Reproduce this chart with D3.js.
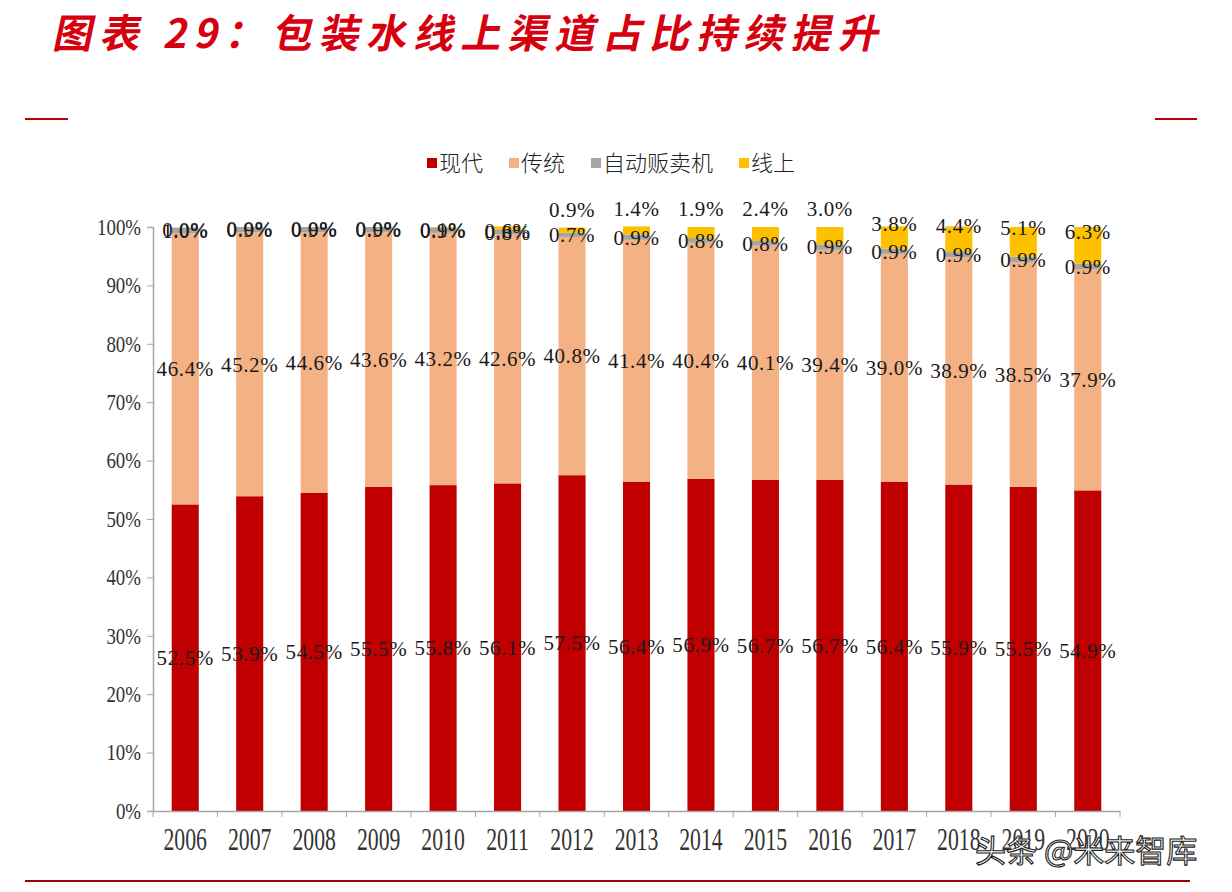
<!DOCTYPE html>
<html>
<head>
<meta charset="utf-8">
<script src="https://cdn.jsdelivr.net/npm/d3@7"></script>
<style>
  body { margin: 0; background: #fff; }
  svg { display: block; }
</style>
</head>
<body>
<svg id="chart" width="1232" height="892"></svg>
<script>
"use strict";

// data
var years = ['2006', '2007', '2008', '2009', '2010', '2011', '2012', '2013', '2014', '2015', '2016', '2017', '2018', '2019', '2020'];
var seriesNames = ['现代', '传统', '自动贩卖机', '线上'];
var modern = [52.5, 53.9, 54.5, 55.5, 55.8, 56.1, 57.5, 56.4, 56.9, 56.7, 56.7, 56.4, 55.9, 55.5, 54.9];
var traditional = [46.4, 45.2, 44.6, 43.6, 43.2, 42.6, 40.8, 41.4, 40.4, 40.1, 39.4, 39.0, 38.9, 38.5, 37.9];
var vending = [1.0, 0.9, 0.9, 0.9, 0.9, 0.8, 0.7, 0.9, 0.8, 0.8, 0.9, 0.9, 0.9, 0.9, 0.9];
var online = [0.0, 0.0, 0.0, 0.0, 0.1, 0.6, 0.9, 1.4, 1.9, 2.4, 3.0, 3.8, 4.4, 5.1, 6.3];
var yTicks = [0, 10, 20, 30, 40, 50, 60, 70, 80, 90, 100];

var colors = ['#c00000', '#f4b183', '#a5a5a5', '#ffc000'];
var serif = '"Liberation Serif", "DejaVu Serif", serif';
var cjk = '"Noto Sans CJK SC", sans-serif';

// table for d3.stack
var table = years.map(function (y, i) {
  return { year: y, '现代': modern[i], '传统': traditional[i], '自动贩卖机': vending[i], '线上': online[i] };
});

var svg = d3.select('#chart');

// title
svg.append('text')
  .attr('x', 52).attr('y', 48)
  .attr('textLength', 826).attr('lengthAdjust', 'spacing')
  .attr('transform', 'skewX(-12) translate(10,0)')
  .style('font-family', cjk).style('font-weight', 700).style('font-size', '40px')
  .style('fill', '#d7000f')
  .text('图表 29：包装水线上渠道占比持续提升');

// red rules
svg.append('line').attr('x1', 25).attr('x2', 68).attr('y1', 119).attr('y2', 119)
  .attr('stroke', '#c00000').attr('stroke-width', 2);
svg.append('line').attr('x1', 1155).attr('x2', 1197).attr('y1', 119).attr('y2', 119)
  .attr('stroke', '#c00000').attr('stroke-width', 2);
svg.append('line').attr('x1', 25).attr('x2', 1190).attr('y1', 881).attr('y2', 881)
  .attr('stroke', '#a00000').attr('stroke-width', 2);

// scales
var x = d3.scaleBand().domain(years).range([153, 1120]).paddingInner(0.58).paddingOuter(0.29);
var y = d3.scaleLinear().domain([0, 100]).range([811, 227]);

var stack = d3.stack().keys(seriesNames)(table);

// bars
var layers = svg.append('g').selectAll('g')
  .data(stack)
  .join('g')
  .attr('fill', function (d, i) { return colors[i]; });

layers.selectAll('rect')
  .data(function (d) { return d; })
  .join('rect')
  .attr('x', function (d) { return x(d.data.year); })
  .attr('width', x.bandwidth())
  .attr('y', function (d) { return y(d[1]); })
  .attr('height', function (d) { return Math.max(0, y(d[0]) - y(d[1])); });

// axes
var yAxis = svg.append('g')
  .attr('transform', 'translate(153,0)')
  .call(d3.axisLeft(y).tickValues(yTicks).tickFormat(function (d) { return d + '%'; }).tickSize(6).tickPadding(10));

var xAxis = svg.append('g')
  .attr('transform', 'translate(0,811)')
  .call(d3.axisBottom(x).tickSize(0).tickPadding(0));

[yAxis, xAxis].forEach(function (g) {
  g.select('.domain').attr('stroke', '#a6a6a6').attr('stroke-width', 1.5);
  g.selectAll('.tick line').attr('stroke', '#a6a6a6');
});

yAxis.selectAll('.tick text')
  .attr('x', 0).attr('dy', '0.32em')
  .attr('transform', 'translate(-12,0) scale(0.82,1)')
  .style('font-family', serif).style('font-size', '23px').style('fill', '#333');

// x boundary ticks between categories
var step = x.step();
xAxis.append('g').selectAll('line')
  .data(d3.range(years.length + 1))
  .join('line')
  .attr('x1', function (i) { return 153 + i * step; })
  .attr('x2', function (i) { return 153 + i * step; })
  .attr('y1', 0).attr('y2', 6)
  .attr('stroke', '#a6a6a6');

xAxis.selectAll('.tick text')
  .attr('y', 0).attr('dy', 0)
  .attr('transform', 'translate(0,39) scale(0.68,1)')
  .style('font-family', serif).style('font-size', '32px').style('fill', '#333');

// data labels
var labelG = svg.append('g')
  .style('font-family', serif).style('font-size', '21px').style('letter-spacing', '0.6px')
  .style('fill', '#1a1a1a').attr('text-anchor', 'middle');

stack.forEach(function (layer, li) {
  labelG.append('g').selectAll('text')
    .data(layer)
    .join('text')
    .attr('x', function (d) { return x(d.data.year) + x.bandwidth() / 2; })
    .attr('y', function (d) {
      var mid = (y(d[0]) + y(d[1])) / 2;
      if (li === 3) {
        var v = d[1] - d[0];
        if (v < 0.7) return mid + 2;
        if (v < 3.5) return y(d[1]) - 18;
        return mid - 14;
      }
      return mid;
    })
    .attr('dy', '0.35em')
    .text(function (d) { return (d[1] - d[0]).toFixed(1) + '%'; });
});

// legend
var legend = svg.append('g').attr('transform', 'translate(427,163)');
var lx = 0;
seriesNames.forEach(function (name, i) {
  var item = legend.append('g').attr('transform', 'translate(' + lx + ',0)');
  item.append('rect').attr('x', 0).attr('y', -5).attr('width', 10).attr('height', 10).attr('fill', colors[i]);
  var t = item.append('text').attr('x', 12).attr('dy', '0.36em')
    .style('font-family', cjk).style('font-size', '22px').style('font-weight', 300).style('fill', '#222')
    .text(name);
  lx += 12 + t.node().getComputedTextLength() + 26;
});

// watermark (sits over the last year labels, as in the source)
svg.append('text')
  .attr('x', 975).attr('y', 862)
  .style('font-family', cjk).style('font-size', '31px')
  .style('fill', '#fff').style('stroke', '#222').style('stroke-width', 1.1)
  .text('头条 @米来智库');
</script>
</body>
</html>
